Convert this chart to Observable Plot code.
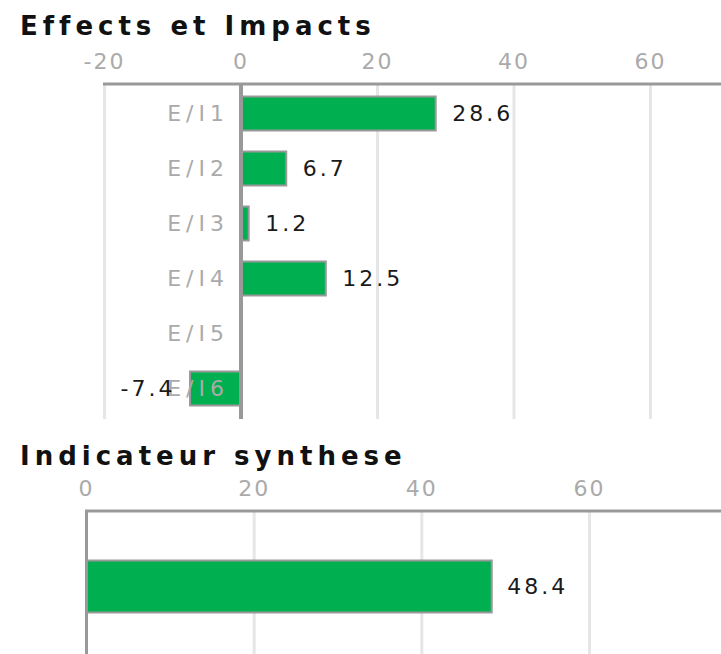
<!DOCTYPE html>
<html>
<head>
<meta charset="utf-8">
<script src="https://cdn.jsdelivr.net/npm/d3@7"></script>
<script src="https://cdn.jsdelivr.net/npm/@observablehq/plot@0.6"></script>
<style>
  body { margin: 0; background: #fff; overflow: hidden; }
  #wrap { position: relative; width: 721px; height: 654px; overflow: hidden; font-family: "DejaVu Sans", sans-serif; background:#fff; }
  .title { position: absolute; left: 20px; font-size: 26px; line-height: 26px; letter-spacing: 5px; font-weight: bold; color: #111; white-space: nowrap; z-index: 2; }
  .chart { position: absolute; left: 0; }
  .chart svg { font-family: "DejaVu Sans", sans-serif; }
  g[aria-label="x-axis tick label"] text { letter-spacing: 2px; }
  g[aria-description="cats"] text { letter-spacing: 5px; }
  g[aria-description="vals"] text { letter-spacing: 3px; }
</style>
</head>
<body>
<div id="wrap">
  <div class="chart" id="c1" style="top:0px"></div>
  <div class="title" style="top:13px">Effects et Impacts</div>
  <div class="chart" id="c2" style="top:440px"></div>
  <div class="title" style="top:443px">Indicateur synthese</div>
</div>
<script>
// ---- data ----
const categories = ["E/I1", "E/I2", "E/I3", "E/I4", "E/I5", "E/I6"];
const values = [28.6, 6.7, 1.2, 12.5, null, -7.4];
const xTicks = [-20, 0, 20, 40, 60];

const summaryCategories = ["Indicateur synthese"];
const summaryValues = [48.4];
const summaryTicks = [0, 20, 40, 60];

const GREEN = "#00b050";
const EDGE = "#999";
const GRID = "#e6e6e6";
const LABEL = "#aaa";

// ---- top chart ----
const data = categories.map((c, i) => ({cat: c, value: values[i]}));
const bars = data.filter(d => d.value != null);
const pos = bars.filter(d => d.value >= 0);
const neg = bars.filter(d => d.value < 0);

const chartTop = Plot.plot({
  width: 721, height: 419,
  marginTop: 83.5, marginBottom: 0, marginLeft: 104, marginRight: 0,
  style: {fontFamily: "DejaVu Sans, sans-serif", fontSize: "22px", background: "transparent", overflow: "visible"},
  x: {domain: [-20, 70.4]},
  y: {domain: categories, padding: 0, axis: null},
  marks: [
    Plot.gridX(xTicks.filter(t => t !== 0), {stroke: GRID, strokeOpacity: 1, strokeWidth: 3}),
    Plot.frame({anchor: "top", stroke: EDGE, strokeWidth: 3}),
    Plot.axisX(xTicks, {anchor: "top", tickSize: 0, tickPadding: 15, fill: LABEL, fontSize: 22, tickFormat: d => String(d), label: null}),
    Plot.barX(bars, {x: "value", y: "cat", fill: GREEN, stroke: EDGE, strokeWidth: 2, insetTop: 10.5, insetBottom: 10.5}),
    Plot.ruleX([0], {stroke: EDGE, strokeWidth: 4}),
    Plot.text(data, {x: 0, y: "cat", text: "cat", textAnchor: "end", dx: -12, fill: LABEL, fontSize: 22, ariaDescription: "cats"}),
    Plot.text(pos, {x: "value", y: "cat", text: d => d.value.toFixed(1), textAnchor: "start", dx: 16, fill: "#1a1a1a", fontSize: 22, ariaDescription: "vals"}),
    Plot.text(neg, {x: "value", y: "cat", text: d => d.value.toFixed(1), textAnchor: "end", dx: -15, fill: "#1a1a1a", fontSize: 22, ariaDescription: "vals"})
  ]
});
document.getElementById("c1").appendChild(chartTop);

// ---- bottom chart ----
const sdata = summaryCategories.map((c, i) => ({cat: c, value: summaryValues[i]}));
const chartBottom = Plot.plot({
  width: 721, height: 222,
  marginTop: 70.5, marginBottom: 0, marginLeft: 86, marginRight: 0,
  style: {fontFamily: "DejaVu Sans, sans-serif", fontSize: "22px", background: "transparent", overflow: "visible"},
  x: {domain: [0, 75.75]},
  y: {domain: summaryCategories, padding: 0, axis: null},
  marks: [
    Plot.gridX(summaryTicks.filter(t => t !== 0), {stroke: GRID, strokeOpacity: 1, strokeWidth: 3}),
    Plot.frame({anchor: "top", stroke: EDGE, strokeWidth: 3}),
    Plot.axisX(summaryTicks, {anchor: "top", tickSize: 0, tickPadding: 15, fill: LABEL, fontSize: 22, tickFormat: d => String(d), label: null}),
    Plot.barX(sdata, {x: "value", y: "cat", fill: GREEN, stroke: EDGE, strokeWidth: 2, insetTop: 49.5, insetBottom: 49.5}),
    Plot.ruleX([0], {stroke: EDGE, strokeWidth: 3}),
    Plot.text(sdata, {x: "value", y: "cat", text: d => d.value.toFixed(1), textAnchor: "start", dx: 15, fill: "#1a1a1a", fontSize: 22, ariaDescription: "vals"})
  ]
});
document.getElementById("c2").appendChild(chartBottom);
</script>
</body>
</html>
